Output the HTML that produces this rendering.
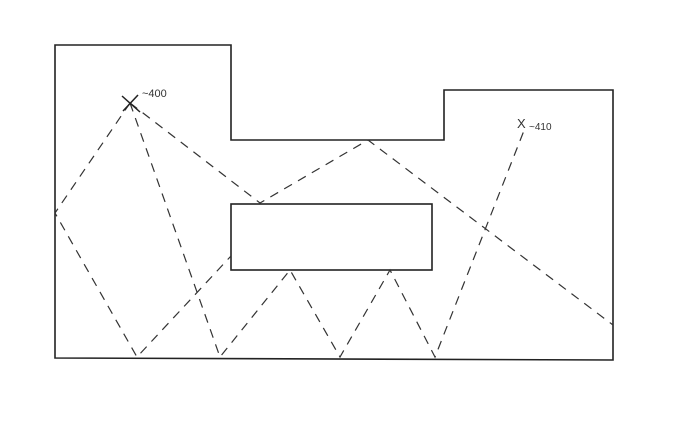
<!DOCTYPE html><html><head><style>body{margin:0;background:#fff}</style></head><body>
<svg width="686" height="416" xmlns="http://www.w3.org/2000/svg">
<rect width="686" height="416" fill="#fff"/>
<g fill="none" stroke="#222" stroke-width="1.6">
<path d="M55,45 L231,45 L231,140 L444,140 L444,90 L613,90 L613,360 L55,358 Z"/>
<rect x="231" y="204" width="201" height="66"/>
</g>
<g fill="none" stroke="#333" stroke-width="1.2" stroke-dasharray="9,7">
<path d="M130,103 L55,213 L137,357 L231,256"/>
<path d="M130,103 L220,357 L290,270 L340,357 L390,270 L435,357 L525,128"/>
<path d="M130,103 L260,203 L368,140 L613,325"/>
</g>
<g stroke="#222" stroke-width="1.5">
<line x1="122" y1="96" x2="140" y2="112"/><line x1="138" y1="95" x2="123" y2="111"/>
</g>
<text x="142" y="97" font-family="Liberation Sans, sans-serif" font-size="11" fill="#333">~400</text>
<text x="517" y="128" font-family="Liberation Sans, sans-serif" font-size="13" fill="#333">X</text>
<text x="529" y="130" font-family="Liberation Sans, sans-serif" font-size="10" fill="#333">~410</text>
</svg>
</body></html>
